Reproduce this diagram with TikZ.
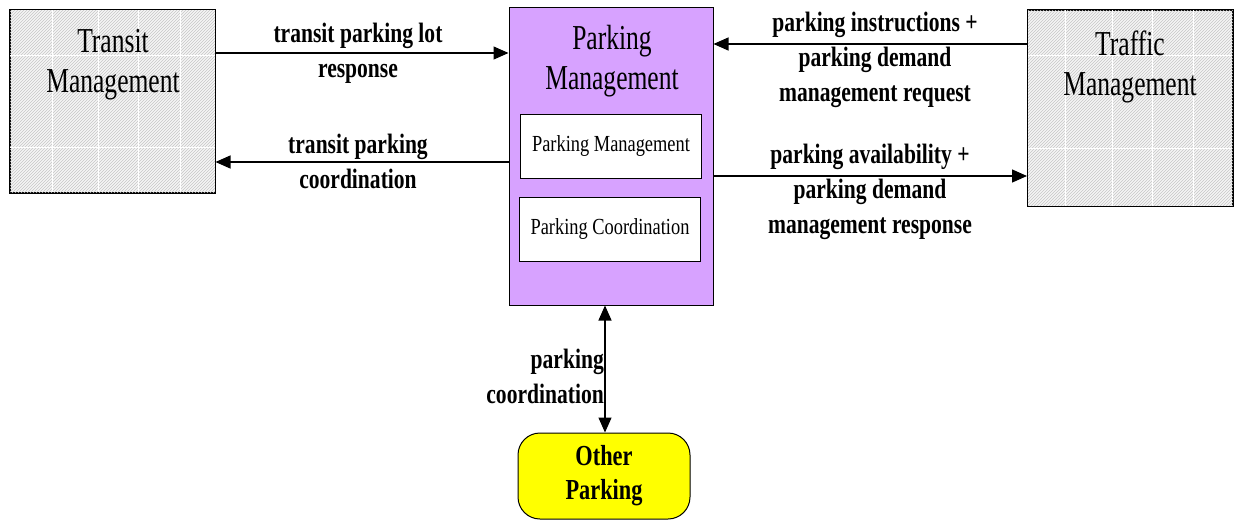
\documentclass[tikz,border=0pt]{standalone}
\usepackage{fontspec}
\usepackage{graphicx}
\setmainfont{Liberation Serif}
\usetikzlibrary{arrows.meta,patterns}
\definecolor{pmfill}{HTML}{D7A2FF}
\definecolor{opfill}{HTML}{FFFF00}
\newcommand\tl[1]{\scalebox{0.73}[1]{#1}}
\newcommand\il[1]{\scalebox{0.8}[1]{#1}}
\newcommand\bl[1]{\scalebox{0.77}[1]{#1}}
\begin{document}
\begin{tikzpicture}[x=1pt,y=-1pt,
  hatchbox/.style={draw=black,line width=1pt,minimum width=205pt,minimum height=183pt,inner sep=0pt,
     fill=gray!8},
  title/.style={font=\fontsize{35}{40}\selectfont,align=center,inner sep=0pt},
  inbox/.style={draw=black,line width=1pt,fill=white,minimum width=181pt,minimum height=64pt,inner sep=0pt,
     font=\fontsize{23}{26}\selectfont},
  lbl/.style={font=\bfseries\fontsize{28}{35}\selectfont,align=center,inner sep=0pt},
  flow/.style={line width=1.3pt,-{Triangle[length=15pt,width=13pt]}},
  bflow/.style={line width=1.3pt,{Triangle[length=15pt,width=13pt]}-{Triangle[length=15pt,width=13pt]}}
]
\useasboundingbox (0,0) rectangle (1235,520);
% Transit Management
\node[hatchbox] (tm) at (112.5,101) {};
\begin{scope}
\clip (tm.north west) rectangle (tm.south east);
\fill[pattern=north east lines,pattern color=gray!45] (tm.north west) rectangle (tm.south east);
\foreach \xx in {52,98,138,180} \draw[white,line width=0.6pt] (\xx,10) -- (\xx,192);
\foreach \yy in {55,147} \draw[white,line width=0.6pt] (10,\yy) -- (215,\yy);
\end{scope}
\draw[line width=1pt] (tm.north west) rectangle (tm.south east);
\node[title] (tmt) at (113,65) {\tl{Transit}\\\tl{Management}};
% Traffic Management
\node[hatchbox,minimum height=196pt] (trm) at (1130,108) {};
\begin{scope}
\clip (trm.north west) rectangle (trm.south east);
\fill[pattern=north east lines,pattern color=gray!45] (trm.north west) rectangle (trm.south east);
\foreach \xx in {1065,1112,1152,1193} \draw[white,line width=0.6pt] (\xx,10) -- (\xx,206);
\foreach \yy in {55,148} \draw[white,line width=0.6pt] (1028,\yy) -- (1232,\yy);
\end{scope}
\draw[line width=1pt] (trm.north west) rectangle (trm.south east);
\node[title] (trmt) at (1130,67) {\tl{Traffic}\\\tl{Management}};
% Parking Management
\node[draw=black,line width=1pt,fill=pmfill,minimum width=204pt,minimum height=298pt,inner sep=0pt] (pm) at (611,156) {};
\node[title] (pmt) at (612,61) {\tl{Parking}\\\tl{Management}};
\node[inbox] (pm1) at (611,146) {\il{Parking Management}};
\node[inbox] (pm2) at (610,229) {\il{Parking Coordination}};
% Other Parking
\node[draw=black,line width=1pt,fill=opfill,rounded corners=22pt,minimum width=172pt,minimum height=86pt,inner sep=0pt,
  font=\bfseries\fontsize{29}{34}\selectfont,align=center] (op) at (604,476) {\bl{Other}\\\bl{Parking}};
% connectors
\draw[flow] (tm.east |- 0,53) -- (pm.west |- 0,53);
\draw[flow] (pm.west |- 0,162) -- (tm.east |- 0,162);
\draw[flow] (trm.west |- 0,44) -- (pm.east |- 0,44);
\draw[flow] (pm.east |- 0,176) -- (trm.west |- 0,176);
\draw[bflow] (pm.south -| 605,0) -- (op.north -| 605,0);
% labels
\node[lbl] (l1) at (358,53) {\bl{transit parking lot}\\\bl{response}};
\node[lbl] (l2) at (358,161) {\bl{transit parking}\\\bl{coordination}};
\node[lbl] (l3) at (875,60) {\bl{parking instructions +}\\\bl{parking demand}\\\bl{management request}};
\node[lbl] (l4) at (870,192) {\bl{parking availability +}\\\bl{parking demand}\\\bl{management response}};
\node[lbl,align=right,anchor=east] (l5) at (604,376) {\bl{parking}\\\bl{coordination}};
\end{tikzpicture}
\end{document}
